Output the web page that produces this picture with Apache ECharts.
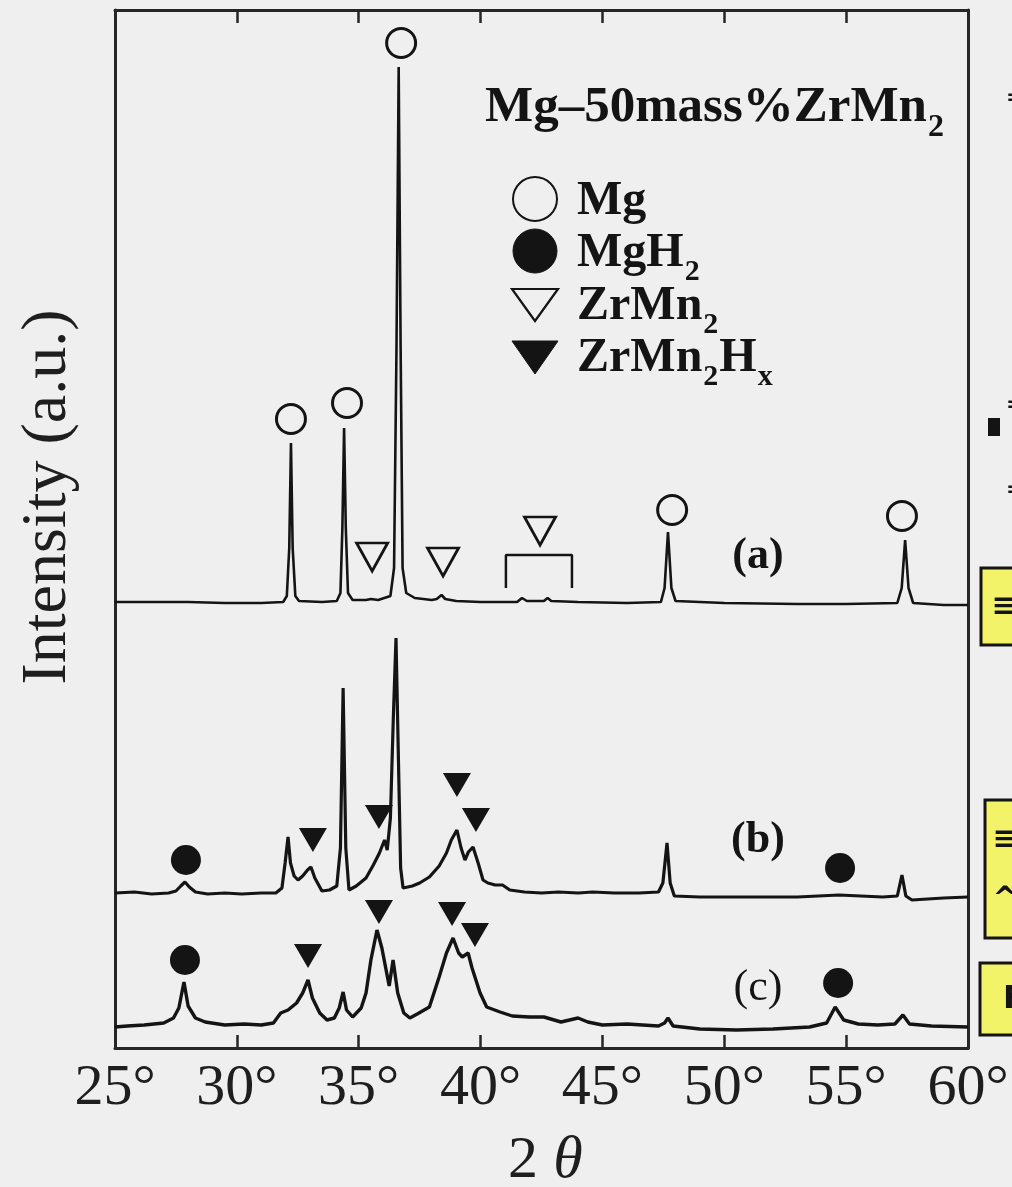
<!DOCTYPE html>
<html>
<head>
<meta charset="utf-8">
<script src="https://cdn.jsdelivr.net/npm/echarts@6/dist/echarts.min.js"></script>
<style>
html,body{margin:0;padding:0;background:#efefef;}
#c{width:1012px;height:1187px;}
</style>
</head>
<body>
<div id="c"></div>
<script>
// ---- Data: [2θ (deg), intensity (a.u., offset patterns)] ----
const xTicks = [25, 30, 35, 40, 45, 50, 55, 60];

const traceA = [
  [25.0,446],[26.5,446],[28.0,446],[29.5,445],[31.0,445],[31.9,446],[32.05,452],[32.15,500],[32.22,605],
  [32.29,500],[32.4,452],[32.55,447],[33.5,446],[34.1,447],[34.25,455],[34.33,520],[34.4,620],[34.47,520],
  [34.56,455],[34.75,448],[35.3,448],[35.5,449],[35.8,448],[36.3,452],[36.45,480],[36.55,700],[36.64,981],
  [36.72,700],[36.8,480],[36.95,455],[37.3,450],[38.0,448],[38.2,449],[38.4,453],[38.55,449],[39.0,447],
  [40.0,446],[41.5,446],[41.7,450],[41.9,447],[42.6,447],[42.75,450],[42.9,447],[44.0,446],[46.0,445],
  [47.4,446],[47.55,460],[47.69,516],[47.83,460],[48.0,447],[50.0,445],[53.0,444],[55.0,444],[57.1,445],
  [57.28,460],[57.42,508],[57.56,460],[57.75,445],[59.0,443],[60.0,443]
];

const traceB = [
  [25.0,155],[25.8,156],[26.5,154],[27.2,155],[27.5,157],[27.7,162],[27.87,166],[28.05,161],[28.3,156],
  [28.8,154],[29.5,155],[30.2,154],[31.0,155],[31.6,155],[31.85,160],[31.98,185],[32.1,211],[32.2,185],
  [32.35,172],[32.51,168],[32.7,172],[32.9,178],[33.04,181],[33.2,170],[33.49,157],[33.8,158],[34.1,162],
  [34.25,200],[34.36,360],[34.47,200],[34.6,158],[34.9,162],[35.3,170],[35.6,183],[35.85,195],[36.06,208],
  [36.17,198],[36.3,230],[36.42,330],[36.53,410],[36.62,300],[36.72,180],[36.82,160],[37.2,162],[37.5,165],
  [37.9,171],[38.3,182],[38.6,195],[38.8,208],[39.03,218],[39.2,200],[39.36,188],[39.5,196],[39.69,201],
  [39.9,185],[40.1,168],[40.3,165],[40.6,163],[40.9,163],[41.2,158],[41.8,156],[42.5,155],[43.2,156],
  [44.0,155],[44.6,156],[45.5,155],[46.5,155],[47.3,156],[47.48,165],[47.65,205],[47.78,165],[47.95,152],
  [49.0,151],[51.0,151],[53.0,151],[54.7,153],[56.5,151],[57.1,152],[57.29,173],[57.45,152],[57.7,148],
  [59.0,150],[60.0,151]
];

const traceC = [
  [25.0,21],[25.5,22],[26.2,23],[27.0,25],[27.4,30],[27.62,40],[27.83,66],[28.0,42],[28.3,30],[28.7,26],
  [29.5,23],[30.3,24],[31.0,23],[31.5,25],[31.8,35],[32.1,38],[32.45,45],[32.7,55],[32.92,68],[33.1,50],
  [33.4,35],[33.7,28],[34.0,30],[34.2,40],[34.36,56],[34.5,38],[34.75,31],[35.1,40],[35.3,55],[35.5,88],
  [35.75,118],[35.95,100],[36.1,81],[36.25,62],[36.41,88],[36.6,55],[36.85,35],[37.1,30],[37.4,34],
  [37.9,41],[38.3,71],[38.6,95],[38.87,110],[39.1,95],[39.25,91],[39.49,95],[39.65,80],[39.98,55],
  [40.25,41],[40.8,36],[41.3,32],[42.0,31],[42.6,31],[43.3,26],[44.0,30],[44.4,26],[45.0,23],[46.0,24],
  [47.3,22],[47.55,25],[47.69,30],[47.9,22],[49.0,19],[50.5,18],[52.0,19],[53.5,21],[54.2,25],[54.55,41],
  [54.9,28],[55.5,24],[56.3,23],[57.0,24],[57.33,33],[57.6,24],[58.5,22],[60.0,21]
];

// phase markers [2θ, intensity]
const mgMarks = [[32.22,629],[34.52,645],[36.74,1005],[47.86,538],[57.29,532]];
const mgh2Marks = [[27.91,188],[54.75,180],[27.87,88],[54.67,65]];
const zrmn2Marks = [[35.55,491],[38.46,486],[42.44,517]];
const zrmn2hxMarks = [[33.12,208],[35.83,231],[39.03,263],[39.81,228],[32.92,92],[35.83,136],[38.83,134],[39.77,113]];
const bracketA = [[41.04,460],[41.04,493],[43.75,493],[43.75,460]];
const patternLabels = ['(a)', '(b)', '(c)'];
const patternLabelPos = [[51.38,491],[51.38,207],[51.38,60]];

// ---- chart ----
const SERIF = '"Liberation Serif", "Times New Roman", serif';
const INK = '#141414';
const BG = '#efefef';

const ctx = document.createElement('canvas').getContext('2d');
function tw(t, font){ ctx.font = font; return ctx.measureText(t).width; }
function mid(baseline, fs){ return baseline - 0.3375 * fs; }

const chart = echarts.init(document.getElementById('c'), null, {renderer:'canvas'});

const axisLineStyle = {color:'#262626', width:3};
const xBase = {
  type:'value', min:25, max:60, interval:5,
  axisLine:{show:true, onZero:false, lineStyle:axisLineStyle},
  axisTick:{show:true, inside:true, length:13, lineStyle:{color:'#262626', width:2.5}},
  splitLine:{show:false}
};

const lineSeries = (name, data, w) => ({
  name, type:'line', data, showSymbol:false, symbol:'none', smooth:false,
  lineStyle:{color:INK, width:w}, z:2, silent:true
});

// legend graphic
const fsT = 51, fsL = 48, fsS = 30;
const fT = 'bold ' + fsT + 'px ' + SERIF;
const fL = 'bold ' + fsL + 'px ' + SERIF;
const fS = 'bold ' + fsS + 'px ' + SERIF;
const titleX = 485, titleBase = 125;
const legX = 577;
const legBase = [218, 270, 323, 375];

function txt(x, y, text, font, opts){
  return {
    type:'text', x, y, z:10,
    style:Object.assign({text, font, fill:INK, align:'left', verticalAlign:'middle'}, opts||{})
  };
}

const graphics = [];
// title
graphics.push(txt(titleX, mid(titleBase, fsT), 'Mg–50mass%ZrMn', fT));
graphics.push(txt(titleX + tw('Mg–50mass%ZrMn', fT) + 1, mid(titleBase + 14, fsS + 2), '2', 'bold ' + (fsS+2) + 'px ' + SERIF));
// legend items
graphics.push(txt(legX, mid(legBase[0], fsL), 'Mg', fL));
graphics.push(txt(legX, mid(legBase[1], fsL), 'MgH', fL));
graphics.push(txt(legX + tw('MgH', fL) + 1, mid(legBase[1] + 12, fsS), '2', fS));
graphics.push(txt(legX, mid(legBase[2], fsL), 'ZrMn', fL));
graphics.push(txt(legX + tw('ZrMn', fL) + 1, mid(legBase[2] + 12, fsS), '2', fS));
graphics.push(txt(legX, mid(legBase[3], fsL), 'ZrMn', fL));
const w1 = tw('ZrMn', fL) + 1;
graphics.push(txt(legX + w1, mid(legBase[3] + 12, fsS), '2', fS));
const w2 = w1 + tw('2', fS) + 1;
graphics.push(txt(legX + w2, mid(legBase[3], fsL), 'H', fL));
const w3 = w2 + tw('H', fL) + 1;
graphics.push(txt(legX + w3, mid(legBase[3] + 12, fsS), 'x', 'bold ' + fsS + 'px ' + SERIF));
// legend symbols
graphics.push({type:'circle', shape:{cx:535, cy:199, r:22}, style:{fill:BG, stroke:INK, lineWidth:2}, z:10});
graphics.push({type:'circle', shape:{cx:535, cy:251, r:22}, style:{fill:INK, stroke:INK, lineWidth:1}, z:10});
graphics.push({type:'polygon', shape:{points:[[512,289],[558,289],[535,321]]}, style:{fill:BG, stroke:INK, lineWidth:2.2}, z:10});
graphics.push({type:'polygon', shape:{points:[[512,341],[558,341],[535,374]]}, style:{fill:INK, stroke:INK, lineWidth:1}, z:10});

// axis names
graphics.push({type:'text', x:48, y:497, rotation:Math.PI/2, z:10,
  style:{text:'Intensity (a.u.)', font:'64px ' + SERIF, fill:'#1e1e1e', align:'center', verticalAlign:'middle'}});
graphics.push({type:'text', x:523, y:1161, z:10,
  style:{text:'2', font:'60px ' + SERIF, fill:'#1e1e1e', align:'center', verticalAlign:'middle'}});
graphics.push({type:'text', x:568, y:1161, z:10,
  style:{text:'θ', font:'italic 60px ' + SERIF, fill:'#1e1e1e', align:'center', verticalAlign:'middle'}});

// cropped neighbouring page boxes at right edge
const YEL = '#f3f36a';
graphics.push({type:'rect', shape:{x:981, y:568, width:45, height:77}, style:{fill:YEL, stroke:INK, lineWidth:3}, z:1});
graphics.push({type:'rect', shape:{x:985, y:800, width:45, height:138}, style:{fill:YEL, stroke:INK, lineWidth:3}, z:1});
graphics.push({type:'rect', shape:{x:980, y:963, width:45, height:72}, style:{fill:YEL, stroke:INK, lineWidth:3}, z:1});
graphics.push({type:'text', x:1004, y:607, z:2, style:{text:'≡', font:'bold 30px "DejaVu Sans"', fill:INK, align:'center', verticalAlign:'middle'}});
graphics.push({type:'text', x:1005, y:840, z:2, style:{text:'≡', font:'bold 30px "DejaVu Sans"', fill:INK, align:'center', verticalAlign:'middle'}});
graphics.push({type:'text', x:1005, y:900, z:2, style:{text:'^', font:'bold 30px "DejaVu Sans"', fill:INK, align:'center', verticalAlign:'middle'}});
graphics.push({type:'text', x:1003, y:1000, z:2, style:{text:'F', font:'bold 32px "DejaVu Sans"', fill:INK, align:'left', verticalAlign:'middle'}});
graphics.push({type:'text', x:1006, y:98, z:2, style:{text:'=', font:'bold 22px "DejaVu Sans"', fill:INK, align:'left', verticalAlign:'middle'}});
graphics.push({type:'text', x:1006, y:405, z:2, style:{text:'=', font:'bold 22px "DejaVu Sans"', fill:INK, align:'left', verticalAlign:'middle'}});
graphics.push({type:'rect', shape:{x:988, y:418, width:12, height:18}, style:{fill:INK}, z:2});
graphics.push({type:'text', x:1006, y:490, z:2, style:{text:'=', font:'bold 22px "DejaVu Sans"', fill:INK, align:'left', verticalAlign:'middle'}});

const option = {
  backgroundColor: BG,
  animation:false,
  grid:{left:115, right:44, top:10, bottom:139, containLabel:false},
  xAxis:[
    Object.assign({}, xBase, {position:'bottom',
      axisLabel:{show:true, margin:12, fontSize:58, fontFamily:SERIF, color:'#1e1e1e',
        formatter:(v)=> xTicks.indexOf(v) >= 0 ? v + '°' : ''}}),
    Object.assign({}, xBase, {position:'top', axisLabel:{show:false}})
  ],
  yAxis:[
    {type:'value', min:0, max:1038, position:'left', axisLine:{show:true, onZero:false, lineStyle:axisLineStyle},
     axisTick:{show:false}, axisLabel:{show:false}, splitLine:{show:false}},
    {type:'value', min:0, max:1038, position:'right', axisLine:{show:true, onZero:false, lineStyle:axisLineStyle},
     axisTick:{show:false}, axisLabel:{show:false}, splitLine:{show:false}}
  ],
  graphic: graphics,
  series:[
    lineSeries('(a)', traceA, 2.6),
    lineSeries('(b)', traceB, 3.2),
    lineSeries('(c)', traceC, 3.4),
    {name:'bracket', type:'line', data:bracketA, showSymbol:false, symbol:'none', lineStyle:{color:INK, width:2.5}, z:3},
    {name:'Mg', type:'scatter', data:mgMarks, symbol:'circle', symbolSize:29,
     itemStyle:{color:BG, borderColor:INK, borderWidth:3, opacity:1}, z:5},
    {name:'MgH2', type:'scatter', data:mgh2Marks, symbol:'circle', symbolSize:30,
     itemStyle:{color:INK, borderColor:INK, borderWidth:0, opacity:1}, z:5},
    {name:'ZrMn2', type:'scatter', data:zrmn2Marks, symbol:'triangle', symbolRotate:180, symbolSize:[31,28],
     itemStyle:{color:BG, borderColor:INK, borderWidth:2.8, opacity:1}, z:5},
    {name:'ZrMn2Hx', type:'scatter', data:zrmn2hxMarks, symbol:'triangle', symbolRotate:180, symbolSize:[28,24],
     itemStyle:{color:INK, borderColor:INK, borderWidth:0, opacity:1}, z:5},
    {name:'labels', type:'scatter', symbolSize:0, z:6, itemStyle:{opacity:1},
     data: patternLabels.map((t,i)=>({value:patternLabelPos[i], name:t,
       label:{fontWeight: i===2 ? 'normal' : 'bold'}})),
     label:{show:true, position:'inside', formatter:(p)=>p.name, fontFamily:SERIF, fontSize:44, color:INK, opacity:1}}
  ]
};
chart.setOption(option);
</script>
</body>
</html>
